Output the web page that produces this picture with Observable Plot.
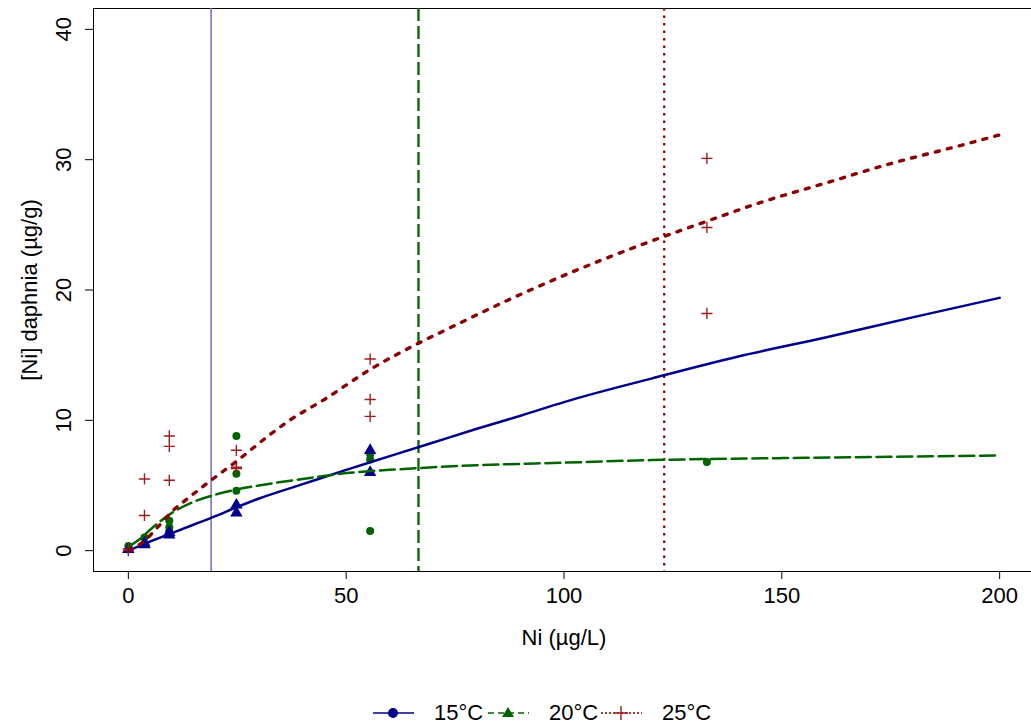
<!DOCTYPE html>
<html><head><meta charset="utf-8">
<script src="https://cdn.jsdelivr.net/npm/d3@7"></script>
<script src="https://cdn.jsdelivr.net/npm/@observablehq/plot@0.6"></script>
<style>
html,body{margin:0;padding:0;background:#fff;overflow:hidden;width:1031px;height:725px}
#wrap{position:relative;width:1031px;height:725px;overflow:hidden;font-family:"Liberation Sans",Arial,sans-serif}
#chart{position:absolute;left:0;top:0;width:1040px}
#chart svg{max-width:none !important;width:1040px;height:660px}
.leg{position:absolute;top:701px;height:24px;display:flex;align-items:center}
.leg span{font-size:22px;color:#000;margin-left:20px;line-height:24px}
</style></head>
<body><div id="wrap"><div id="chart"></div></div>
<script>
// ---- data ----
const tempLabels = ["15°C", "20°C", "25°C"];
const xTicks = [0, 50, 100, 150, 200];
const yTicks = [0, 10, 20, 30, 40];
const xTitle = "Ni (µg/L)";
const yTitle = "[Ni] daphnia (µg/g)";

// observed points
const blueTriX = [0, 3.7, 3.7, 9.4, 9.4, 24.8, 24.8, 55.5, 55.5];
const blueTriY = [0.1, 0.6, 0.45, 1.2, 1.4, 3.5, 2.9, 7.7, 6.0];
const greenDotX = [0, 3.7, 9.4, 9.4, 9.4, 24.8, 24.8, 24.8, 55.5, 55.5, 55.5, 132.8];
const greenDotY = [0.35, 1.0, 2.3, 1.8, 1.5, 8.8, 5.9, 4.6, 7.4, 7.0, 1.5, 6.8];
const redPlusX = [0, 0, 3.7, 3.7, 9.4, 9.4, 9.4, 24.8, 24.8, 24.8, 55.5, 55.5, 55.5, 132.8, 132.8, 132.8];
const redPlusY = [0, 0.15, 5.5, 2.7, 8.8, 8.0, 5.4, 7.7, 6.4, 6.3, 14.7, 11.6, 10.3, 30.1, 24.8, 18.2];

// fitted curves
const curveX15 = [0, 2.5, 5, 10, 15, 20, 25, 30, 40, 50, 60, 70, 80, 90, 100, 120, 140, 160, 180, 200];
const curveY15 = [0, 0.35, 0.7, 1.35, 2.0, 2.65, 3.35, 4.0, 5.1, 6.2, 7.25, 8.3, 9.35, 10.35, 11.4, 13.2, 14.9, 16.35, 17.9, 19.4];
const curveX20 = [0, 2.5, 5, 7.5, 10, 15, 20, 25, 30, 40, 50, 60, 70, 80, 100, 120, 150, 175, 200];
const curveY20 = [0.3, 0.85, 1.6, 2.3, 2.9, 3.75, 4.3, 4.7, 5.0, 5.5, 5.95, 6.2, 6.4, 6.55, 6.75, 6.95, 7.1, 7.2, 7.3];
const curveX25 = [0, 3.5, 7, 10, 14, 19, 25, 32.5, 37, 45, 55.5, 66.5, 72, 87, 102, 118, 133, 145, 160, 175, 190, 200];
const curveY25 = [0.05, 0.7, 1.9, 3.0, 4.1, 5.4, 6.9, 8.9, 10.0, 11.6, 13.9, 15.9, 16.8, 19.2, 21.4, 23.5, 25.3, 26.7, 28.2, 29.7, 31.0, 31.9];

// vertical reference lines
const kX = [19.0, 66.6, 123.0];

// ---- styles ----
const C = {blue: "#00008b", green: "#006400", red: "#8b0000", redPt: "#a01c1c", blueV: "#6b6bcc"};
const zip = (xs, ys) => xs.map((x, i) => ({x, y: ys[i]}));

const chart = Plot.plot({
  width: 1040, height: 660,
  marginLeft: 93, marginRight: 6, marginTop: 8, marginBottom: 89,
  style: {fontFamily: "Liberation Sans, Arial, sans-serif", fontSize: "22px", background: "white", color: "black", maxWidth: "none"},
  x: {domain: [-8, 208]},
  y: {domain: [-1.6, 41.6]},
  marks: [
    Plot.frame({stroke: "black", strokeWidth: 1}),
    Plot.axisX({ticks: xTicks, tickSize: 8, tickPadding: 8, fontSize: 22, label: null}),
    Plot.axisY({ticks: yTicks, tickSize: 8, tickFormat: () => "", label: null}),
    Plot.text(yTicks, {y: d => d, text: d => String(d), frameAnchor: "left", dx: -30, rotate: -90, textAnchor: "middle", lineAnchor: "middle", fontSize: 22}),
    Plot.text([yTitle], {frameAnchor: "left", dx: -64, rotate: -90, text: d => d, textAnchor: "middle", lineAnchor: "middle", fontSize: 22}),
    Plot.text([xTitle], {frameAnchor: "bottom", dy: 66, text: d => d, textAnchor: "middle", lineAnchor: "middle", fontSize: 22}),
    Plot.ruleX([kX[0]], {x: d => d, stroke: C.blueV, strokeWidth: 1.5}),
    Plot.ruleX([kX[1]], {x: d => d, stroke: C.green, strokeWidth: 2.3, strokeDasharray: "13,5"}),
    Plot.ruleX([kX[2]], {x: d => d, stroke: C.red, strokeWidth: 2.2, strokeDasharray: "2.5,5"}),
    Plot.dot(zip(greenDotX, greenDotY), {x: "x", y: "y", r: 4, fill: C.green, stroke: "none", symbol: "circle"}),
    Plot.dot(zip(blueTriX, blueTriY), {x: "x", y: "y", r: 4.6, fill: C.blue, stroke: "none", symbol: "triangle"}),
    Plot.dot(zip(redPlusX, redPlusY), {x: "x", y: "y", r: 3.7, stroke: C.redPt, strokeWidth: 1.4, fill: "none", symbol: "plus"}),
    Plot.line(zip(curveX15, curveY15), {x: "x", y: "y", stroke: C.blue, strokeWidth: 2.5, curve: "monotone-x"}),
    Plot.line(zip(curveX20, curveY20), {x: "x", y: "y", stroke: C.green, strokeWidth: 2.5, strokeDasharray: "15,5.7", curve: "monotone-x"}),
    Plot.line(zip(curveX25, curveY25), {x: "x", y: "y", stroke: C.red, strokeWidth: 3.4, strokeDasharray: "4,8.3", curve: "monotone-x"})
  ]
});
document.getElementById("chart").appendChild(chart);

// ---- legend ----
const legStyles = [
  {left: 373, stroke: C.blue, dash: null, sym: "circle"},
  {left: 488, stroke: C.green, dash: "6,4", sym: "triangle"},
  {left: 601, stroke: C.red, dash: "2,2", sym: "plus"}
];
const wrap = d3.select("#wrap");
tempLabels.forEach((lab, i) => {
  const s = legStyles[i];
  const item = wrap.append("div").attr("class", "leg").style("left", s.left + "px");
  const svg = item.append("svg").attr("width", 41).attr("height", 24);
  svg.append("line").attr("x1", 0).attr("x2", 41).attr("y1", 12).attr("y2", 12)
    .attr("stroke", s.stroke).attr("stroke-width", 1.5).attr("stroke-dasharray", s.dash);
  if (s.sym === "circle") svg.append("circle").attr("cx", 20).attr("cy", 12).attr("r", 5).attr("fill", s.stroke);
  if (s.sym === "triangle") svg.append("path").attr("d", "M20,6 L26,16 L14,16 Z").attr("fill", s.stroke);
  if (s.sym === "plus") svg.append("path").attr("d", "M20,5 V19 M13,12 H27").attr("stroke", "#a01c1c").attr("stroke-width", 1.4);
  item.append("span").text(lab);
});
</script>
</body></html>
